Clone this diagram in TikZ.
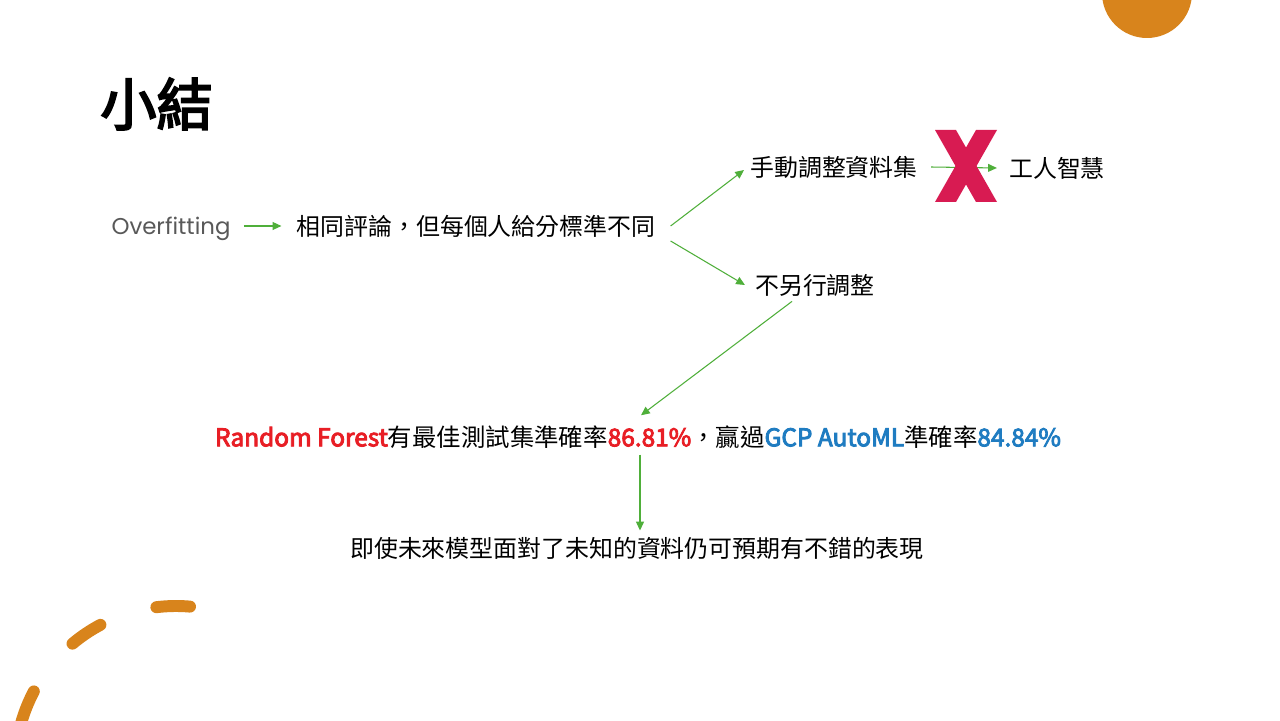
\documentclass[tikz,border=0pt]{standalone}
\usepackage{fontspec}
\setmainfont{Noto Sans CJK TC}
\newfontfamily\latinfont{Poppins}
\newfontfamily\semibold[FakeBold=3.5]{Noto Sans CJK TC}
\usetikzlibrary{arrows.meta}

\definecolor{arrowgreen}{HTML}{4FAF3A}
\definecolor{rfred}{HTML}{E81E25}
\definecolor{gcpblue}{HTML}{1F7CC1}
\definecolor{accentorange}{HTML}{D8841C}
\definecolor{crossred}{HTML}{D81B52}
\definecolor{overgray}{HTML}{595959}

\begin{document}
\begin{tikzpicture}[
  txt/.style={inner sep=0pt, font=\fontsize{13.6}{16}\selectfont},
  flow/.style={draw=arrowgreen, line width=0.6pt, -{Triangle[length=5pt,width=4.5pt]}},
  dashstroke/.style={draw=accentorange, line width=6.8pt, line cap=round},
]
\useasboundingbox (0,0) rectangle (25.6,14.4);
\fill[white] (0,0) rectangle (25.6,14.4);

% decoration
\fill[accentorange] (22.94,14.54) circle (0.9);
\foreach \a/\b in {85/97, 118/130, 152/175}
  \draw[dashstroke] (3.52,-0.94) ++(\a:3.22) arc[start angle=\a, end angle=\b, radius=3.22];

\node[inner sep=0pt, anchor=west, font=\semibold\fontsize{32}{36}\selectfont] (title) at (2.0,12.32) {小結};

\node[txt, font=\latinfont\fontsize{13}{16}\selectfont, text=overgray] (over) at (3.42,9.82) {Overfitting};
\node[txt] (same) at (9.52,9.88) {相同評論，但每個人給分標準不同};
\node[txt] (hand) at (16.68,11.06) {手動調整資料集};
\node[txt] (human) at (21.14,11.04) {工人智慧};
\node[txt] (noadj) at (16.30,8.70) {不另行調整};
\node[txt, font=\fontsize{13.9}{16}\selectfont] (rf) at (12.76,5.66) {\textcolor{rfred}{\semibold Random Forest}有最佳測試集準確率\textcolor{rfred}{\semibold 86.81\%}，贏過\textcolor{gcpblue}{\semibold GCP AutoML}準確率\textcolor{gcpblue}{\semibold 84.84\%}};
\node[txt] (future) at (12.74,3.44) {即使未來模型面對了未知的資料仍可預期有不錯的表現};

\draw[flow] ([xshift=0.26cm,yshift=0.06cm]over.east) -- ([xshift=-0.3cm]same.west);
\draw[flow] ([xshift=0.3cm]same.east) -- ([xshift=-0.12cm,yshift=-0.06cm]hand.west);
\draw[flow] ([xshift=0.3cm,yshift=-0.3cm]same.east) -- ([xshift=-0.2cm]noadj.west);
\draw[flow] ([xshift=0.26cm]hand.east) -- ([xshift=-0.24cm]human.west);
\draw[flow] ([xshift=-0.46cm,yshift=-0.1cm]noadj.south) -- ([xshift=0.06cm,yshift=0.2cm]rf.north);
\draw[flow] ([xshift=0.04cm,yshift=-0.12cm]rf.south) -- ([xshift=0.04cm,yshift=0.12cm]rf.south |- future.north);

% the cross over the upper branch
\fill[crossred] (18.70,11.80) -- (19.12,11.80) -- (19.94,10.36) -- (19.52,10.36) -- cycle;
\fill[crossred] (19.52,11.80) -- (19.94,11.80) -- (19.12,10.36) -- (18.70,10.36) -- cycle;
\end{tikzpicture}
\end{document}
